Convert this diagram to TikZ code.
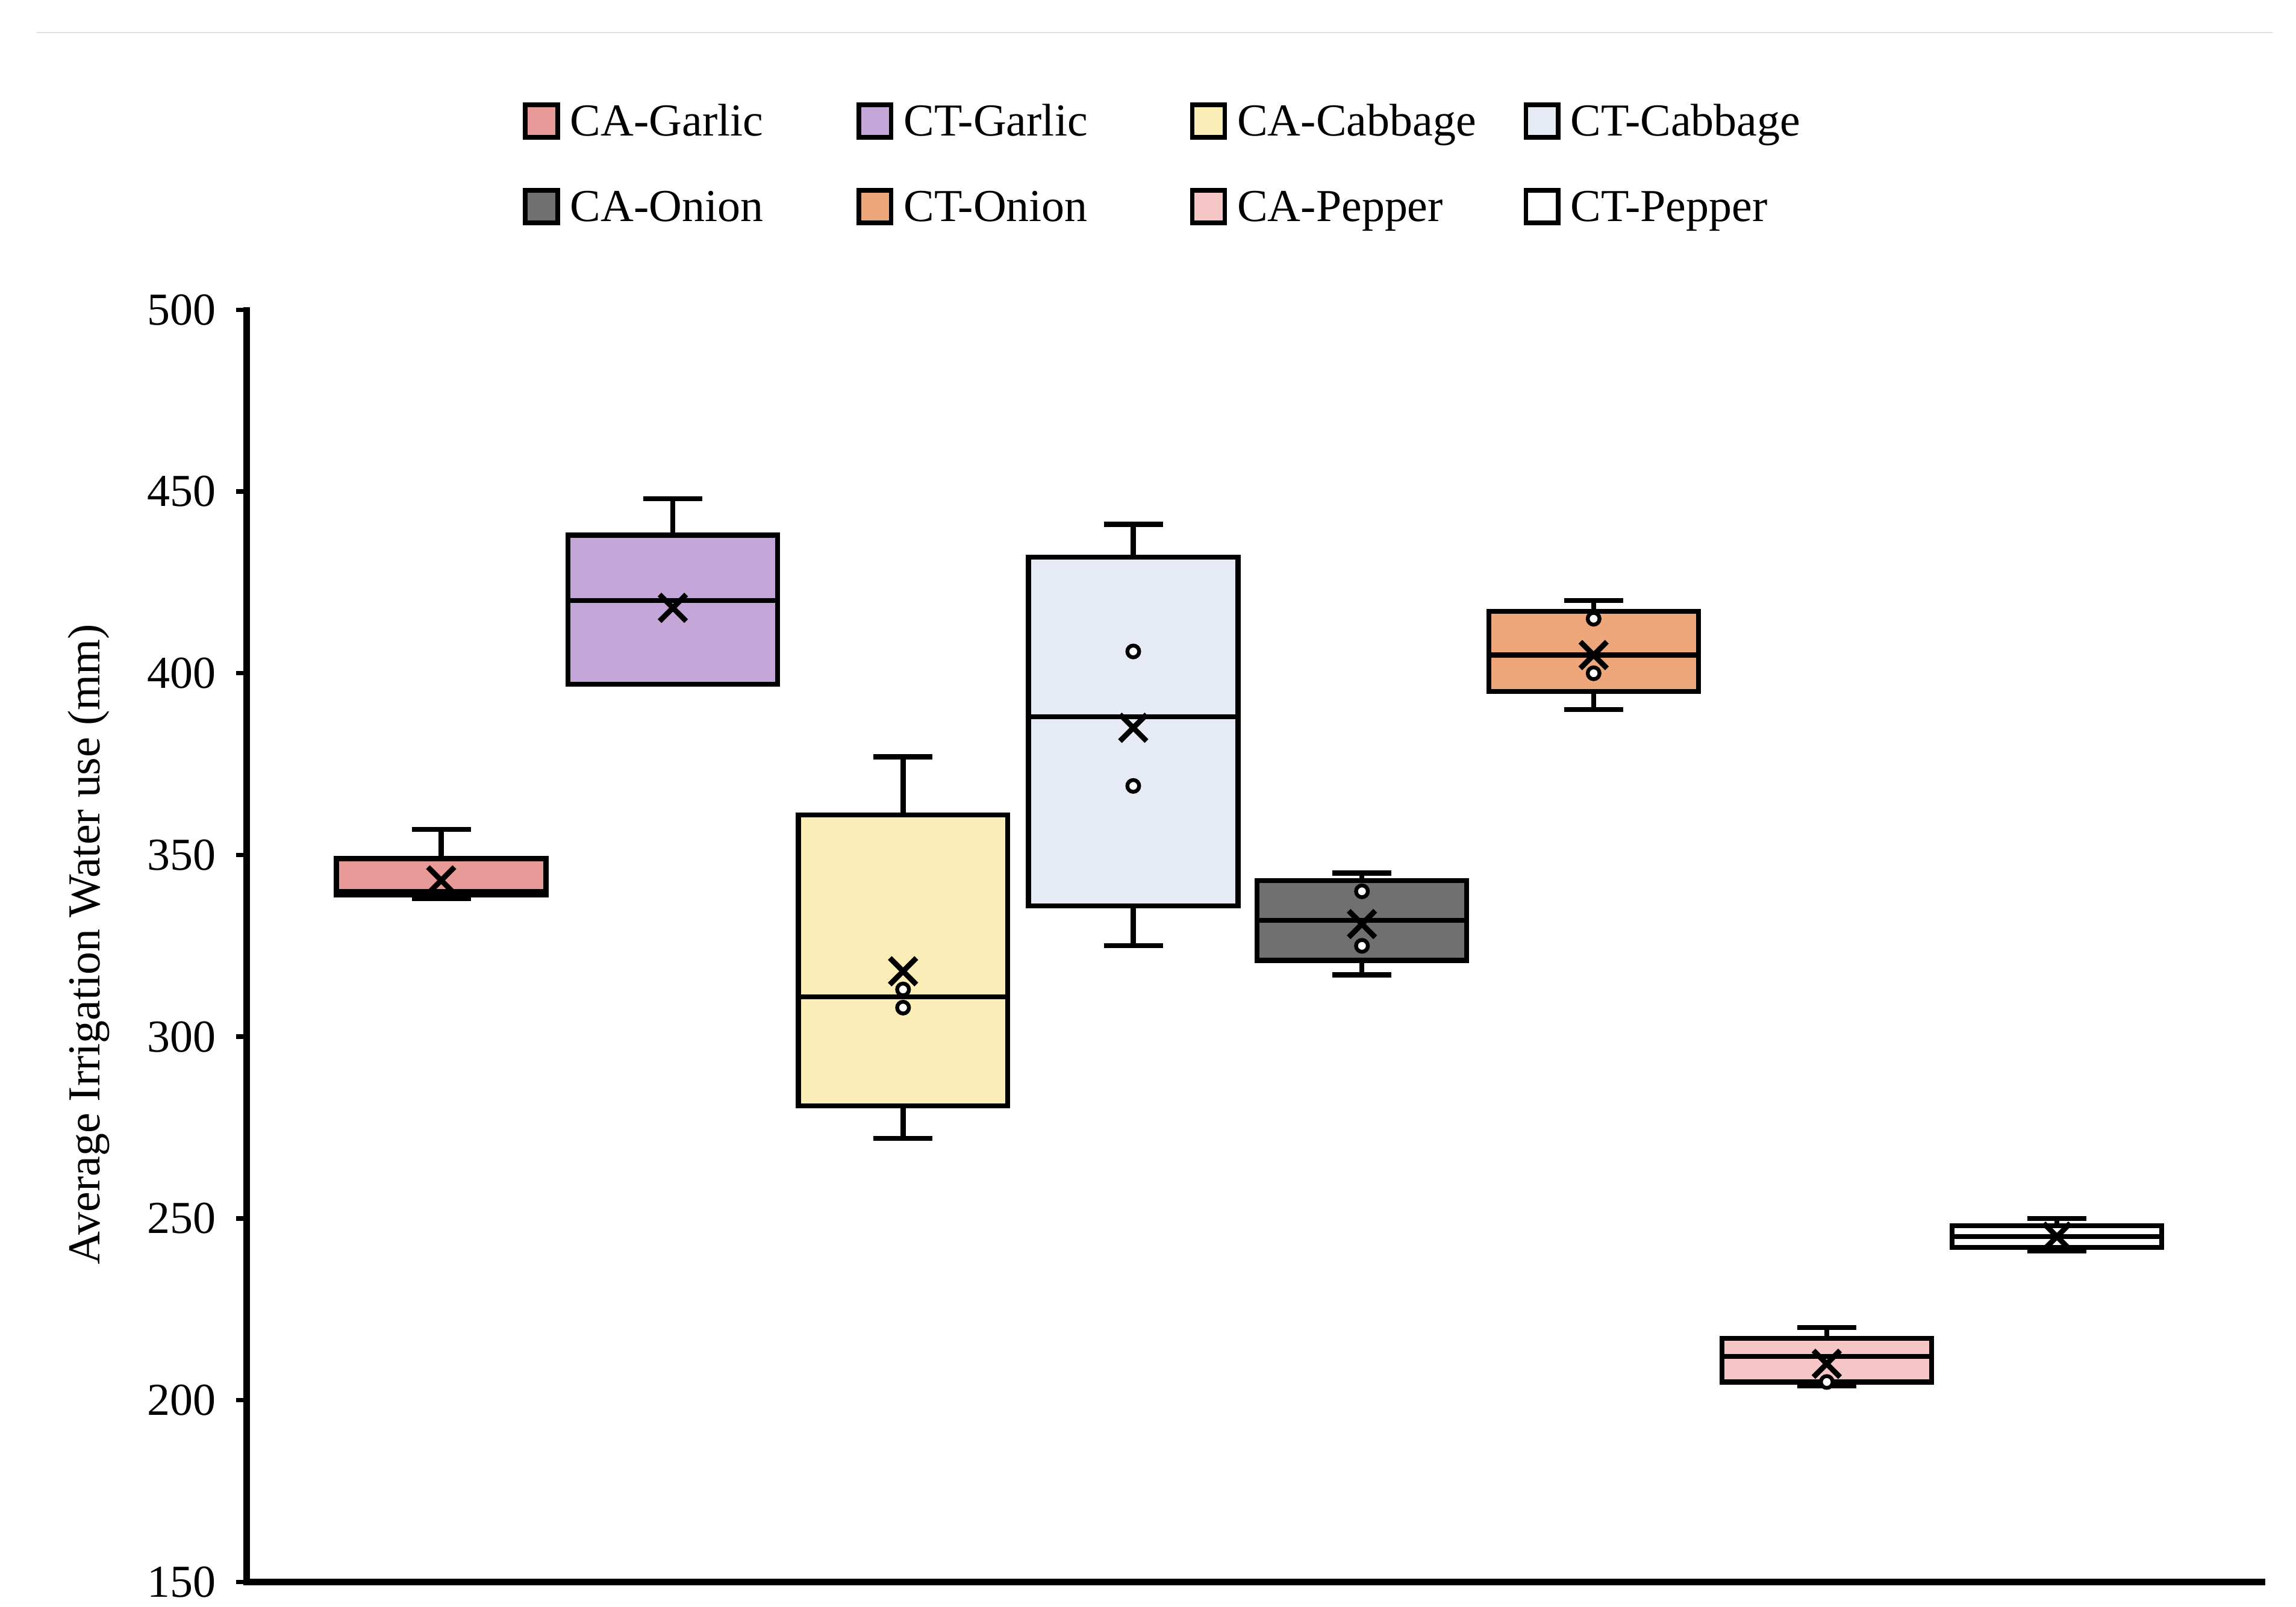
\documentclass[tikz,border=0pt]{standalone}
\usepackage{fontspec}
\setmainfont{Liberation Serif}
\begin{document}
\begin{tikzpicture}[x=1pt,y=-1pt,
  bxl/.style={line width=3.4pt},
  lab/.style={font=\fontsize{31}{33}\selectfont},
  leg/.style={draw,line width=3pt,minimum size=22pt,inner sep=0pt}]
\useasboundingbox (0,0) rectangle (1556,1089);
\fill[white] (0,0) rectangle (1556,1089);
\draw[gray!25,line width=1pt] (25,22) -- (1540,22);
\definecolor{cg}{HTML}{E89A98}
\definecolor{tg}{HTML}{C4A6D8}
\definecolor{cc}{HTML}{FBEDB8}
\definecolor{tc}{HTML}{E6EAF4}
\definecolor{co}{HTML}{707070}
\definecolor{to}{HTML}{EEA77A}
\definecolor{cp}{HTML}{F6C6C6}
\newcommand{\vy}[2]{\pgfmathsetmacro#1{1072-(#2-150)*2.463}}
\newcommand{\bxplot}[9]{%
 \vy\qa{#2}\vy\qb{#3}\vy\md{#4}\vy\lo{#5}\vy\hi{#6}\vy\mn{#7}%
 \pgfmathsetmacro\xl{#1-71}\pgfmathsetmacro\xr{#1+71}%
 \draw[bxl] (#1,\qa) -- (#1,\lo) (#1-20,\lo) -- (#1+20,\lo);
 \draw[bxl] (#1,\qb) -- (#1,\hi) (#1-20,\hi) -- (#1+20,\hi);
 \draw[bxl,fill=#9] (\xl,\qa) rectangle (\xr,\qb);
 \draw[bxl] (\xl,\md) -- (\xr,\md);
 \draw[line width=3.6pt] (#1-9,\mn-9) -- (#1+9,\mn+9) (#1-9,\mn+9) -- (#1+9,\mn-9);
 \foreach \p in {#8}{\vy\pp{\p}\draw[line width=2.6pt,fill=white] (#1,\pp) circle (4);}
}
% axes
\draw[line width=4.5pt] (167,208) -- (167,1072) -- (1535,1072);
\foreach \v in {150,200,...,500}{\vy\yy{\v}
 \draw[line width=3pt] (160,\yy) -- (167,\yy);
 \node[lab,anchor=east] at (150,\yy) {\v};}
\node[lab,rotate=90] at (60,640) {Average Irrigation Water use (mm)};
% boxes
\bxplot{299}{339}{349}{340}{338}{357}{343}{}{cg}
\bxplot{456}{397}{438}{420}{397}{448}{418}{}{tg}
\bxplot{612}{281}{361}{311}{272}{377}{318}{313,308}{cc}
\bxplot{768}{336}{432}{388}{325}{441}{385}{406,369}{tc}
\bxplot{923}{321}{343}{332}{317}{345}{331}{340,325}{co}
\bxplot{1080}{395}{417}{405}{390}{420}{405}{415,400}{to}
\bxplot{1238}{205}{217}{212}{204}{220}{210}{205}{cp}
\bxplot{1394}{242}{248}{245}{241}{250}{245}{}{white}
% legend
\foreach \x/\y/\c/\t in {367/82/cg/CA-Garlic,593/82/tg/CT-Garlic,819/82/cc/CA-Cabbage,1045/82/tc/CT-Cabbage,
 367/140/co/CA-Onion,593/140/to/CT-Onion,819/140/cp/CA-Pepper,1045/140/white/CT-Pepper}{
 \node[leg,fill=\c] at (\x,\y) {};
 \node[lab,anchor=base west] at (\x+16,\y+10) {\t};}
\end{tikzpicture}
\end{document}
